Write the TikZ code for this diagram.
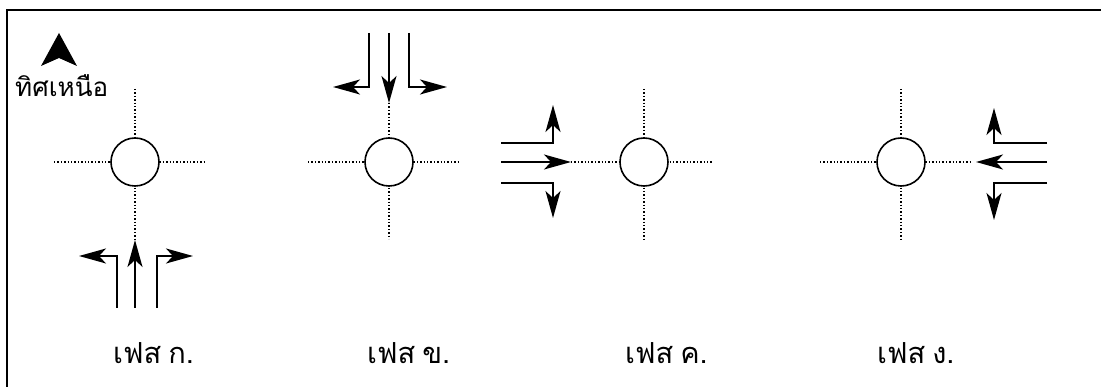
\documentclass[tikz,border=0pt]{standalone}
\usepackage{fontspec}
\newfontfamily\thaifont[Script=Thai]{Loma}
\usetikzlibrary{arrows.meta}
\tikzset{
  junction/.style={circle, draw, line width=1.6pt, minimum size=48pt, inner sep=0pt, fill=white},
  road/.style={dotted, line width=1.4pt},
  flow/.style={line width=1.6pt, -{Stealth[length=27pt, width=15pt, inset=7pt]}},
  northtext/.style={anchor=base west, inner sep=0pt, font=\thaifont\fontsize{26}{29}\selectfont},
  label/.style={anchor=base west, inner sep=0pt, font=\thaifont\fontsize{29}{32}\selectfont},
}
\begin{document}
\begin{tikzpicture}[x=1pt, y=-1pt]
\useasboundingbox (0,0) rectangle (1101,387);
% frame
\draw[line width=2pt] (7,387) -- (7,10) -- (1101,10);
% north arrow
\fill (59,33) -- (77,66) -- (59,58) -- (41,66) -- cycle;
\node[northtext] (north) at (15,97) {ทิศเหนือ};

% ---------- Phase A ----------
\coordinate (aW) at (54,162); \coordinate (aE) at (204,162);
\coordinate (aN) at (135,89); \coordinate (aS) at (135,239);
\draw[road] (aW) -- (aE); \draw[road] (aN) -- (aS);
\node[junction] (a) at (135,162) {};
\coordinate (a1) at (117,308); \coordinate (a1b) at (117,256); \coordinate (a1t) at (79,256);
\coordinate (a2) at (135,308); \coordinate (a2t) at (135,240);
\coordinate (a3) at (157,308); \coordinate (a3b) at (157,256); \coordinate (a3t) at (193,256);
\draw[flow] (a1) -- (a1b) -- (a1t);
\draw[flow] (a2) -- (a2t);
\draw[flow] (a3) -- (a3b) -- (a3t);
\node[label] (la) at (113,363) {เฟส\hspace{7pt}ก.};

% ---------- Phase B ----------
\coordinate (bW) at (308,162); \coordinate (bE) at (458,162);
\coordinate (bN) at (389,103); \coordinate (bS) at (389,239);
\draw[road] (bW) -- (bE); \draw[road] (bN) -- (bS);
\node[junction] (b) at (389,162) {};
\coordinate (b1) at (369,33); \coordinate (b1b) at (369,87); \coordinate (b1t) at (333,87);
\coordinate (b2) at (389,33); \coordinate (b2t) at (389,103);
\coordinate (b3) at (409,33); \coordinate (b3b) at (409,87); \coordinate (b3t) at (447,87);
\draw[flow] (b1) -- (b1b) -- (b1t);
\draw[flow] (b2) -- (b2t);
\draw[flow] (b3) -- (b3b) -- (b3t);
\node[label] (lb) at (367,363) {เฟส\hspace{7pt}ข.};

% ---------- Phase C ----------
\coordinate (cW) at (571,162); \coordinate (cE) at (713,162);
\coordinate (cN) at (644,89); \coordinate (cS) at (644,239);
\draw[road] (cW) -- (cE); \draw[road] (cN) -- (cS);
\node[junction] (c) at (644,162) {};
\coordinate (c1) at (501,143); \coordinate (c1b) at (553,143); \coordinate (c1t) at (553,105);
\coordinate (c2) at (501,162); \coordinate (c2t) at (571,162);
\coordinate (c3) at (501,183); \coordinate (c3b) at (553,183); \coordinate (c3t) at (553,218);
\draw[flow] (c1) -- (c1b) -- (c1t);
\draw[flow] (c2) -- (c2t);
\draw[flow] (c3) -- (c3b) -- (c3t);
\node[label] (lc) at (625,363) {เฟส\hspace{7pt}ค.};

% ---------- Phase D ----------
\coordinate (dW) at (820,162); \coordinate (dE) at (970,162);
\coordinate (dN) at (901,89); \coordinate (dS) at (901,239);
\draw[road] (dW) -- (dE); \draw[road] (dN) -- (dS);
\node[junction] (d) at (901,162) {};
\coordinate (d1) at (1047,143); \coordinate (d1b) at (994,143); \coordinate (d1t) at (994,108);
\coordinate (d2) at (1047,162); \coordinate (d2t) at (976,162);
\coordinate (d3) at (1047,183); \coordinate (d3b) at (994,183); \coordinate (d3t) at (994,220);
\draw[flow] (d1) -- (d1b) -- (d1t);
\draw[flow] (d2) -- (d2t);
\draw[flow] (d3) -- (d3b) -- (d3t);
\node[label] (ld) at (877,363) {เฟส\hspace{7pt}ง.};
\end{tikzpicture}
\end{document}
